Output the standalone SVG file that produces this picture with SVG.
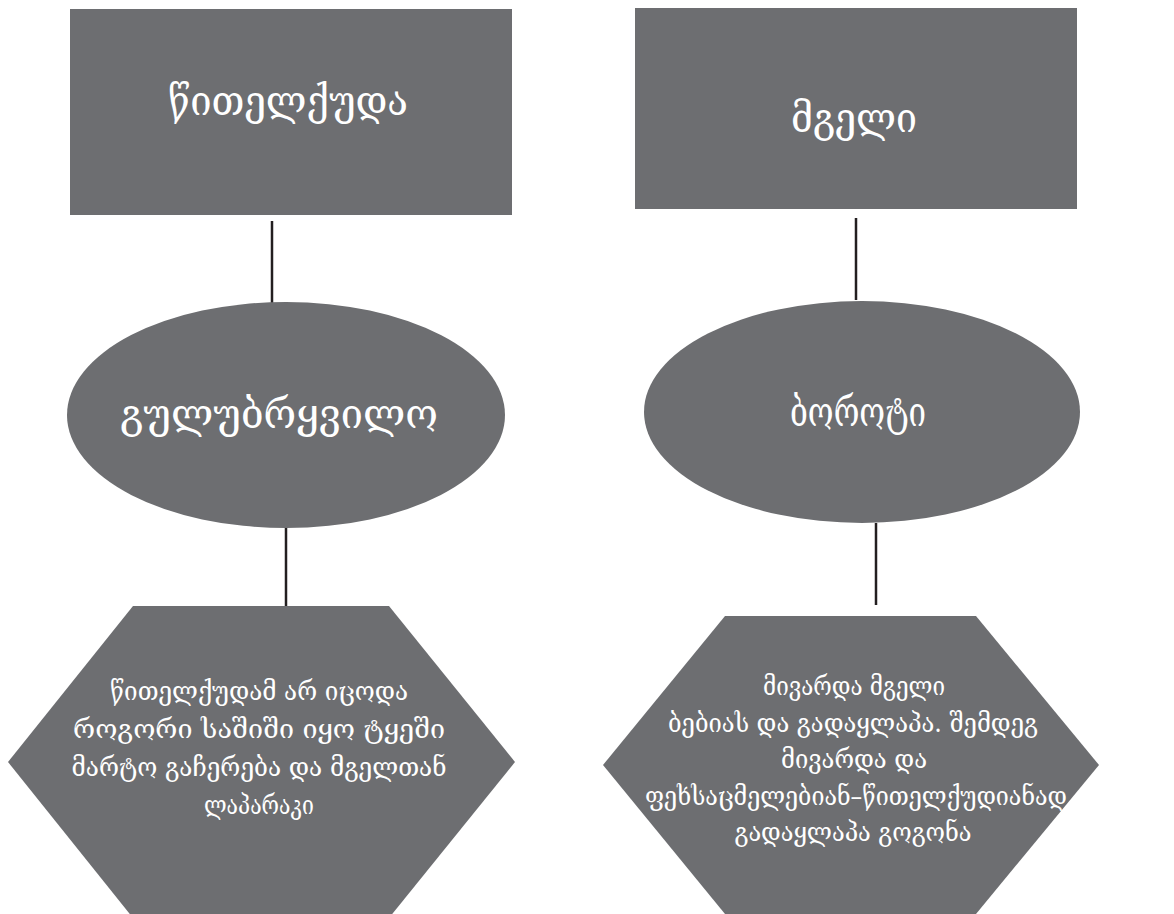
<svg xmlns="http://www.w3.org/2000/svg" width="1174" height="914" viewBox="0 0 1174 914">
<style>
.shape{fill:#6d6e71}
.lbl{fill:#ffffff;font-family:"DejaVu Serif","DejaVu Sans",serif;text-anchor:middle}
.big{font-size:42px}
.small{font-size:26px}
.conn{stroke:#231f20;stroke-width:2.5;fill:none}
</style>
<rect width="1174" height="914" fill="#ffffff"/>
<g id="connectors">
<line class="conn" x1="272" y1="221" x2="272" y2="303"/>
<line class="conn" x1="856" y1="218" x2="856" y2="300"/>
<line class="conn" x1="286" y1="528" x2="286" y2="612"/>
<line class="conn" x1="876" y1="523" x2="876" y2="605"/>
</g>
<g id="node-red">
<rect class="shape" x="70" y="9" width="442" height="206"/>
<text class="lbl big" x="288" y="115" textLength="240" lengthAdjust="spacingAndGlyphs">წითელქუდა</text>
</g>
<g id="node-wolf">
<rect class="shape" x="635" y="8" width="442" height="201"/>
<text class="lbl big" x="854" y="132" textLength="126" lengthAdjust="spacingAndGlyphs">მგელი</text>
</g>
<g id="node-naive">
<ellipse class="shape" cx="286" cy="415" rx="219" ry="113"/>
<text class="lbl big" x="279" y="428" textLength="318" lengthAdjust="spacingAndGlyphs">გულუბრყვილო</text>
</g>
<g id="node-evil">
<ellipse class="shape" cx="862" cy="412" rx="218" ry="111"/>
<text class="lbl big" x="858" y="426" textLength="136" lengthAdjust="spacingAndGlyphs">ბოროტი</text>
</g>
<g id="node-story1">
<polygon class="shape" points="133,606 389,606 515,762 389,918 133,918 8,762"/>
<text class="lbl small" x="259" y="700" textLength="298" lengthAdjust="spacingAndGlyphs">წითელქუდამ არ იცოდა</text>
<text class="lbl small" x="259" y="738" textLength="372" lengthAdjust="spacingAndGlyphs">როგორი საშიში იყო ტყეში</text>
<text class="lbl small" x="259" y="776" textLength="375" lengthAdjust="spacingAndGlyphs">მარტო გაჩერება და მგელთან</text>
<text class="lbl small" x="259" y="814" textLength="110" lengthAdjust="spacingAndGlyphs">ლაპარაკი</text>
</g>
<g id="node-story2">
<polygon class="shape" points="725,616 976,616 1099,765 976,914 725,914 603,765"/>
<text class="lbl small" x="854" y="695" textLength="182" lengthAdjust="spacingAndGlyphs">მივარდა მგელი</text>
<text class="lbl small" x="853" y="732" textLength="370" lengthAdjust="spacingAndGlyphs">ბებიას და გადაყლაპა. შემდეგ</text>
<text class="lbl small" x="854" y="768" textLength="146" lengthAdjust="spacingAndGlyphs">მივარდა და</text>
<text class="lbl small" x="856" y="805" textLength="422" lengthAdjust="spacingAndGlyphs">ფეხსაცმელებიან–წითელქუდიანად</text>
<text class="lbl small" x="853" y="841" textLength="237" lengthAdjust="spacingAndGlyphs">გადაყლაპა გოგონა</text>
</g>
</svg>
